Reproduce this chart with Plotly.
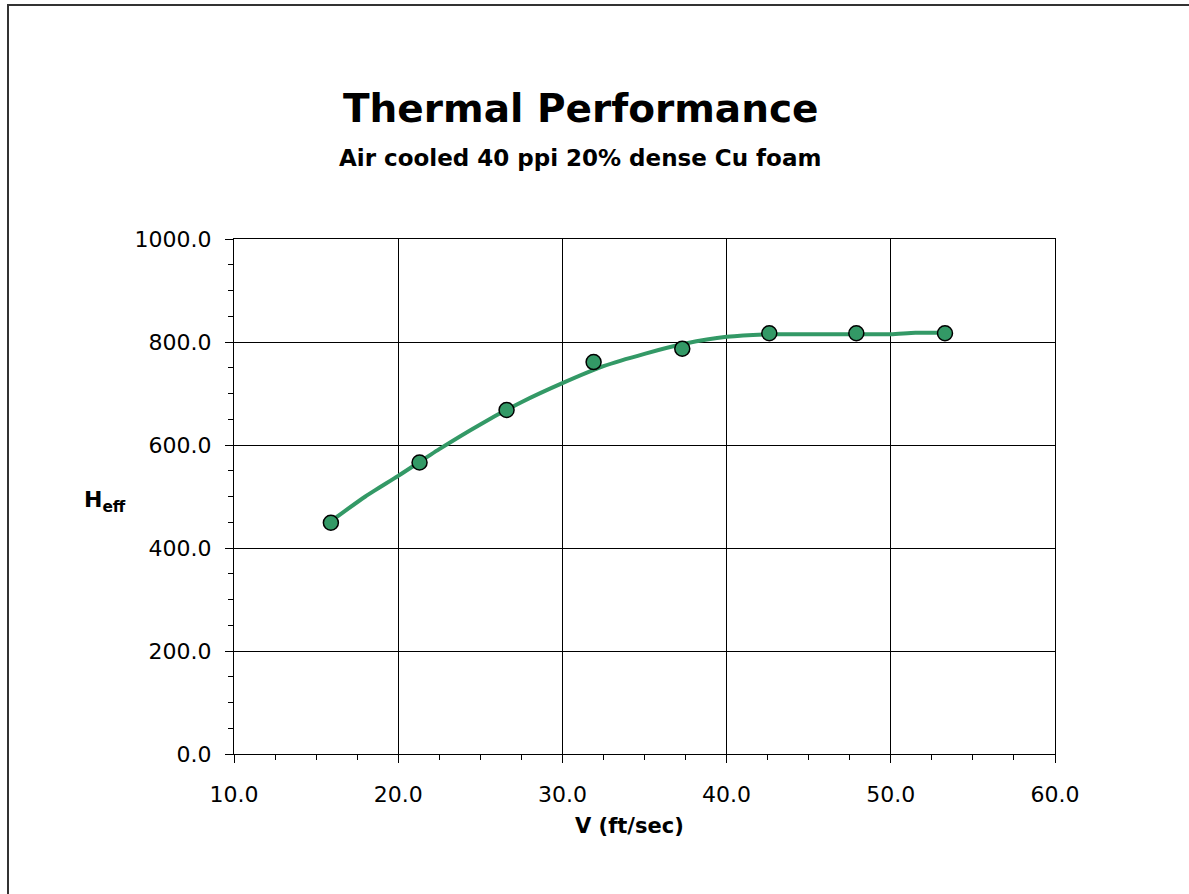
import plotly.graph_objects as go

# Measured data points
v_points = [15.9, 21.3, 26.6, 31.9, 37.3, 42.6, 47.9, 53.3]
h_points = [449, 566, 668, 761, 787, 817, 817, 817]

# Fitted curve
v_curve = [15.9, 18.0, 20.0, 22.5, 25.0, 27.5, 30.0, 32.5, 35.0, 37.5, 40.0, 42.6, 45.0, 47.9, 50.0, 51.5, 53.3]
h_curve = [452, 500, 540, 592, 640, 683, 720, 753, 777, 797, 810, 815, 815, 815, 815, 818, 818]

x_ticks = [10, 20, 30, 40, 50, 60]
x_tick_text = ["10.0", "20.0", "30.0", "40.0", "50.0", "60.0"]
y_ticks = [0, 200, 400, 600, 800, 1000]
y_tick_text = ["0.0", "200.0", "400.0", "600.0", "800.0", "1000.0"]

GREEN = "#339966"
FONT = "DejaVu Sans"

fig = go.Figure()
fig.add_trace(go.Scatter(
    x=v_curve, y=h_curve, mode="lines",
    line=dict(color=GREEN, width=4, shape="spline", smoothing=0.6),
    hoverinfo="skip", showlegend=False,
))
fig.add_trace(go.Scatter(
    x=v_points, y=h_points, mode="markers",
    marker=dict(color=GREEN, size=15, line=dict(color="black", width=1.5)),
    showlegend=False,
))

W, H = 1189, 894
L, R, T, B = 234, 134, 239, 140
pw, ph = W - L - R, H - T - B

def px(x):
    return (x - L) / pw

def py(y):
    return (H - B - y) / ph

axis_common = dict(
    showgrid=True, gridcolor="black", gridwidth=1,
    showline=True, linecolor="black", linewidth=1, mirror=True,
    ticks="outside", ticklen=8, tickcolor="black", tickwidth=1,
    tickfont=dict(family=FONT, size=22, color="black"),
    zeroline=False,
)

fig.update_layout(
    width=W, height=H,
    margin=dict(l=L, r=R, t=T, b=B),
    paper_bgcolor="white", plot_bgcolor="white",
    font=dict(family=FONT, color="black"),
    xaxis=dict(
        range=[10, 60], tickmode="array", tickvals=x_ticks, ticktext=x_tick_text,
        minor=dict(dtick=2.5, ticks="outside", ticklen=5, tickcolor="black", showgrid=False),
        ticklabelstandoff=13,
        **axis_common,
    ),
    yaxis=dict(
        range=[0, 1000], tickmode="array", tickvals=y_ticks, ticktext=y_tick_text,
        minor=dict(dtick=50, ticks="outside", ticklen=5, tickcolor="black", showgrid=False),
        ticklabelstandoff=9,
        **axis_common,
    ),
    shapes=[dict(
        type="rect", xref="paper", yref="paper",
        x0=px(8), x1=px(1200), y0=py(905), y1=py(5),
        line=dict(color="#333333", width=2), fillcolor="rgba(0,0,0,0)", layer="below",
    )],
    annotations=[
        dict(text="<b>Thermal Performance</b>", xref="paper", yref="paper",
             x=px(581), y=py(108), xanchor="center", yanchor="middle", showarrow=False,
             font=dict(family=FONT, size=39, color="black")),
        dict(text="<b>Air cooled 40 ppi 20% dense Cu foam</b>", xref="paper", yref="paper",
             x=px(580), y=py(158), xanchor="center", yanchor="middle", showarrow=False,
             font=dict(family=FONT, size=23, color="black")),
        dict(text="<b>H<sub>eff</sub></b>", xref="paper", yref="paper",
             x=px(104.5), y=py(501), xanchor="center", yanchor="middle", showarrow=False,
             font=dict(family=FONT, size=22, color="black")),
        dict(text="<b>V (ft/sec)</b>", xref="paper", yref="paper",
             x=px(629), y=py(826), xanchor="center", yanchor="middle", showarrow=False,
             font=dict(family=FONT, size=21, color="black")),
    ],
)

fig.write_html("out.html")
